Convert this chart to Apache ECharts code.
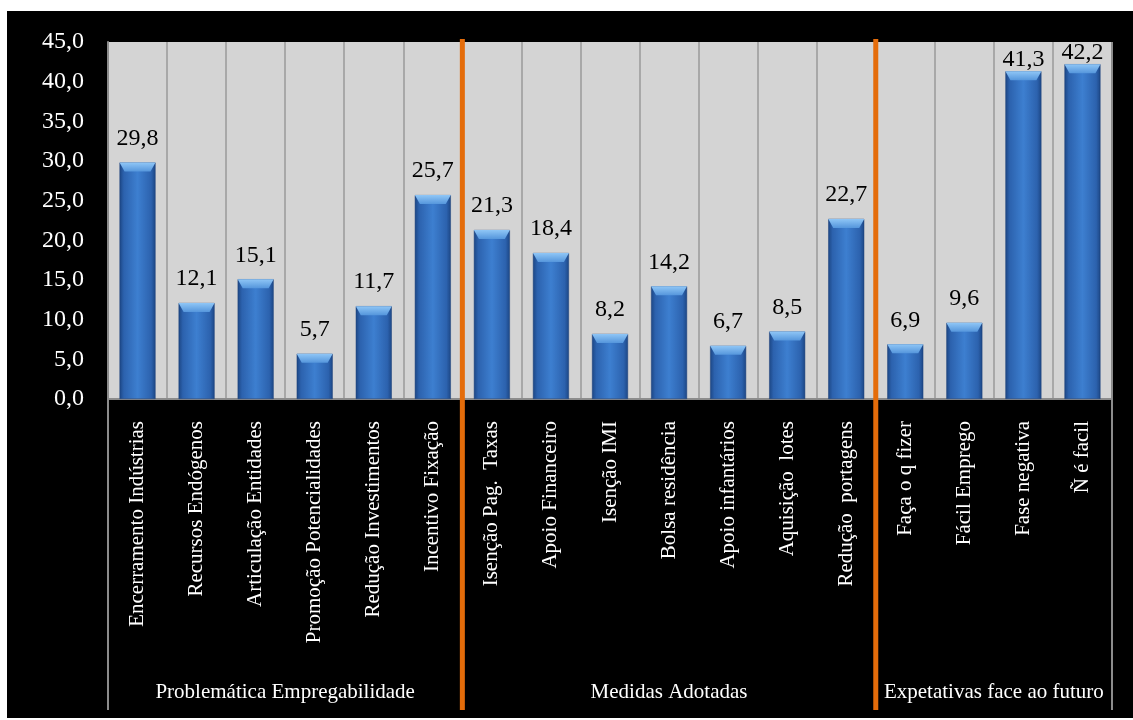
<!DOCTYPE html>
<html>
<head>
<meta charset="utf-8">
<script src="https://cdn.jsdelivr.net/npm/echarts@6/dist/echarts.min.js"></script>
<style>
  html, body { margin: 0; padding: 0; background: #ffffff; }
  #chart { position: absolute; left: 7px; top: 11px; width: 1126px; height: 707px; }
</style>
</head>
<body>
<div id="chart"></div>
<script>
// Category names, one per bar
const categories = [
  'Encerramento Indústrias', 'Recursos Endógenos', 'Articulação Entidades',
  'Promoção Potencialidades', 'Redução Investimentos', 'Incentivo Fixação',
  'Isenção Pag.  Taxas', 'Apoio Financeiro', 'Isenção IMI', 'Bolsa residência',
  'Apoio infantários', 'Aquisição  lotes', 'Redução  portagens',
  'Faça o q fizer', 'Fácil Emprego', 'Fase negativa', 'Ñ é facil'
];
// Percent values per category
const values = [29.8, 12.1, 15.1, 5.7, 11.7, 25.7, 21.3, 18.4, 8.2, 14.2, 6.7, 8.5, 22.7, 6.9, 9.6, 41.3, 42.2];
// Group names and how many categories each group spans
const groups = ['Problemática Empregabilidade', 'Medidas Adotadas', 'Expetativas face ao futuro'];
const groupSizes = [6, 7, 4];
// Value axis range
const yMin = 0, yMax = 45, yStep = 5;

const serif = '"Liberation Serif", "DejaVu Serif", serif';
const fmt = v => Number(v).toFixed(1).replace('.', ',');

const chart = echarts.init(document.getElementById('chart'));

const barFill = new echarts.graphic.LinearGradient(0, 0, 1, 0, [
  { offset: 0, color: '#1c4684' },
  { offset: 0.12, color: '#2c62ae' },
  { offset: 0.5, color: '#3d7fd0' },
  { offset: 0.88, color: '#2c62ae' },
  { offset: 1, color: '#1c4684' }
]);
const capFill = new echarts.graphic.LinearGradient(0, 0, 0, 1, [
  { offset: 0, color: '#8fc6f6' },
  { offset: 1, color: '#5596dc' }
]);

chart.setOption({
  backgroundColor: '#000000',
  animation: false,
  grid: {
    left: 101, right: 21, top: 31, bottom: 319,
    show: true, backgroundColor: '#d4d4d4', borderWidth: 0
  },
  xAxis: {
    type: 'category',
    data: categories,
    axisLine: { show: true, lineStyle: { color: '#8c8c8c', width: 2 } },
    axisTick: { show: false },
    splitLine: { show: true, interval: 0, lineStyle: { color: '#a8a8a8', width: 2 } },
    axisLabel: {
      interval: 0, rotate: 90, margin: 22,
      color: '#ffffff', fontFamily: serif, fontSize: 21
    }
  },
  yAxis: {
    type: 'value',
    min: yMin, max: yMax, interval: yStep,
    axisLine: { show: true, lineStyle: { color: '#8c8c8c', width: 2 } },
    axisTick: { show: false },
    splitLine: { show: false },
    axisLabel: {
      color: '#ffffff', fontFamily: serif, fontSize: 24, margin: 24,
      formatter: fmt
    }
  },
  series: [
    {
      type: 'bar',
      barWidth: 36,
      data: values.map(v => ({
        value: v,
        label: { distance: v > 40 ? 0 : 12 }
      })),
      itemStyle: { color: barFill, borderColor: '#1a3f78', borderWidth: 0.5 },
      label: {
        show: true, position: 'top',
        color: '#000000', fontFamily: serif, fontSize: 24,
        formatter: p => fmt(p.value)
      },
      z: 2
    },
    {
      type: 'pictorialBar',
      data: values,
      symbol: 'path://M0,0 L10,0 L8.6,1 L1.4,1 Z',
      symbolSize: [36, 9],
      symbolPosition: 'end',
      itemStyle: { color: capFill },
      silent: true,
      z: 3
    }
  ]
});

// Frame lines, group separators and group names placed on the category scale
function drawOverlay() {
  const c0 = chart.convertToPixel({ xAxisIndex: 0 }, 0);
  const c1 = chart.convertToPixel({ xAxisIndex: 0 }, 1);
  const step = c1 - c0;
  const edge = i => chart.convertToPixel({ xAxisIndex: 0 }, i) - step / 2;
  const plotTop = chart.convertToPixel({ yAxisIndex: 0 }, yMax);
  const plotBottom = chart.convertToPixel({ yAxisIndex: 0 }, yMin);
  const frameBottom = 699;
  const elements = [];

  // left and right frame lines under / beside the plot
  elements.push({
    type: 'line', shape: { x1: edge(0), y1: plotBottom, x2: edge(0), y2: frameBottom },
    style: { stroke: '#8c8c8c', lineWidth: 2 }, z: 10
  });
  elements.push({
    type: 'line', shape: { x1: edge(categories.length), y1: plotTop, x2: edge(categories.length), y2: frameBottom },
    style: { stroke: '#8c8c8c', lineWidth: 2 }, z: 10
  });

  let start = 0;
  groups.forEach((g, gi) => {
    const end = start + groupSizes[gi];
    const mid = (edge(start) + edge(end)) / 2;
    elements.push({
      type: 'text', x: mid, y: 681,
      style: {
        text: g, fill: '#ffffff', font: '21px ' + serif,
        align: 'center', verticalAlign: 'middle'
      }, z: 10
    });
    if (gi < groups.length - 1) {
      elements.push({
        type: 'line', shape: { x1: edge(end), y1: plotTop - 3, x2: edge(end), y2: frameBottom },
        style: { stroke: '#e46c0a', lineWidth: 5 }, z: 11
      });
    }
    start = end;
  });

  chart.setOption({ graphic: elements });
}
drawOverlay();
</script>
</body>
</html>
